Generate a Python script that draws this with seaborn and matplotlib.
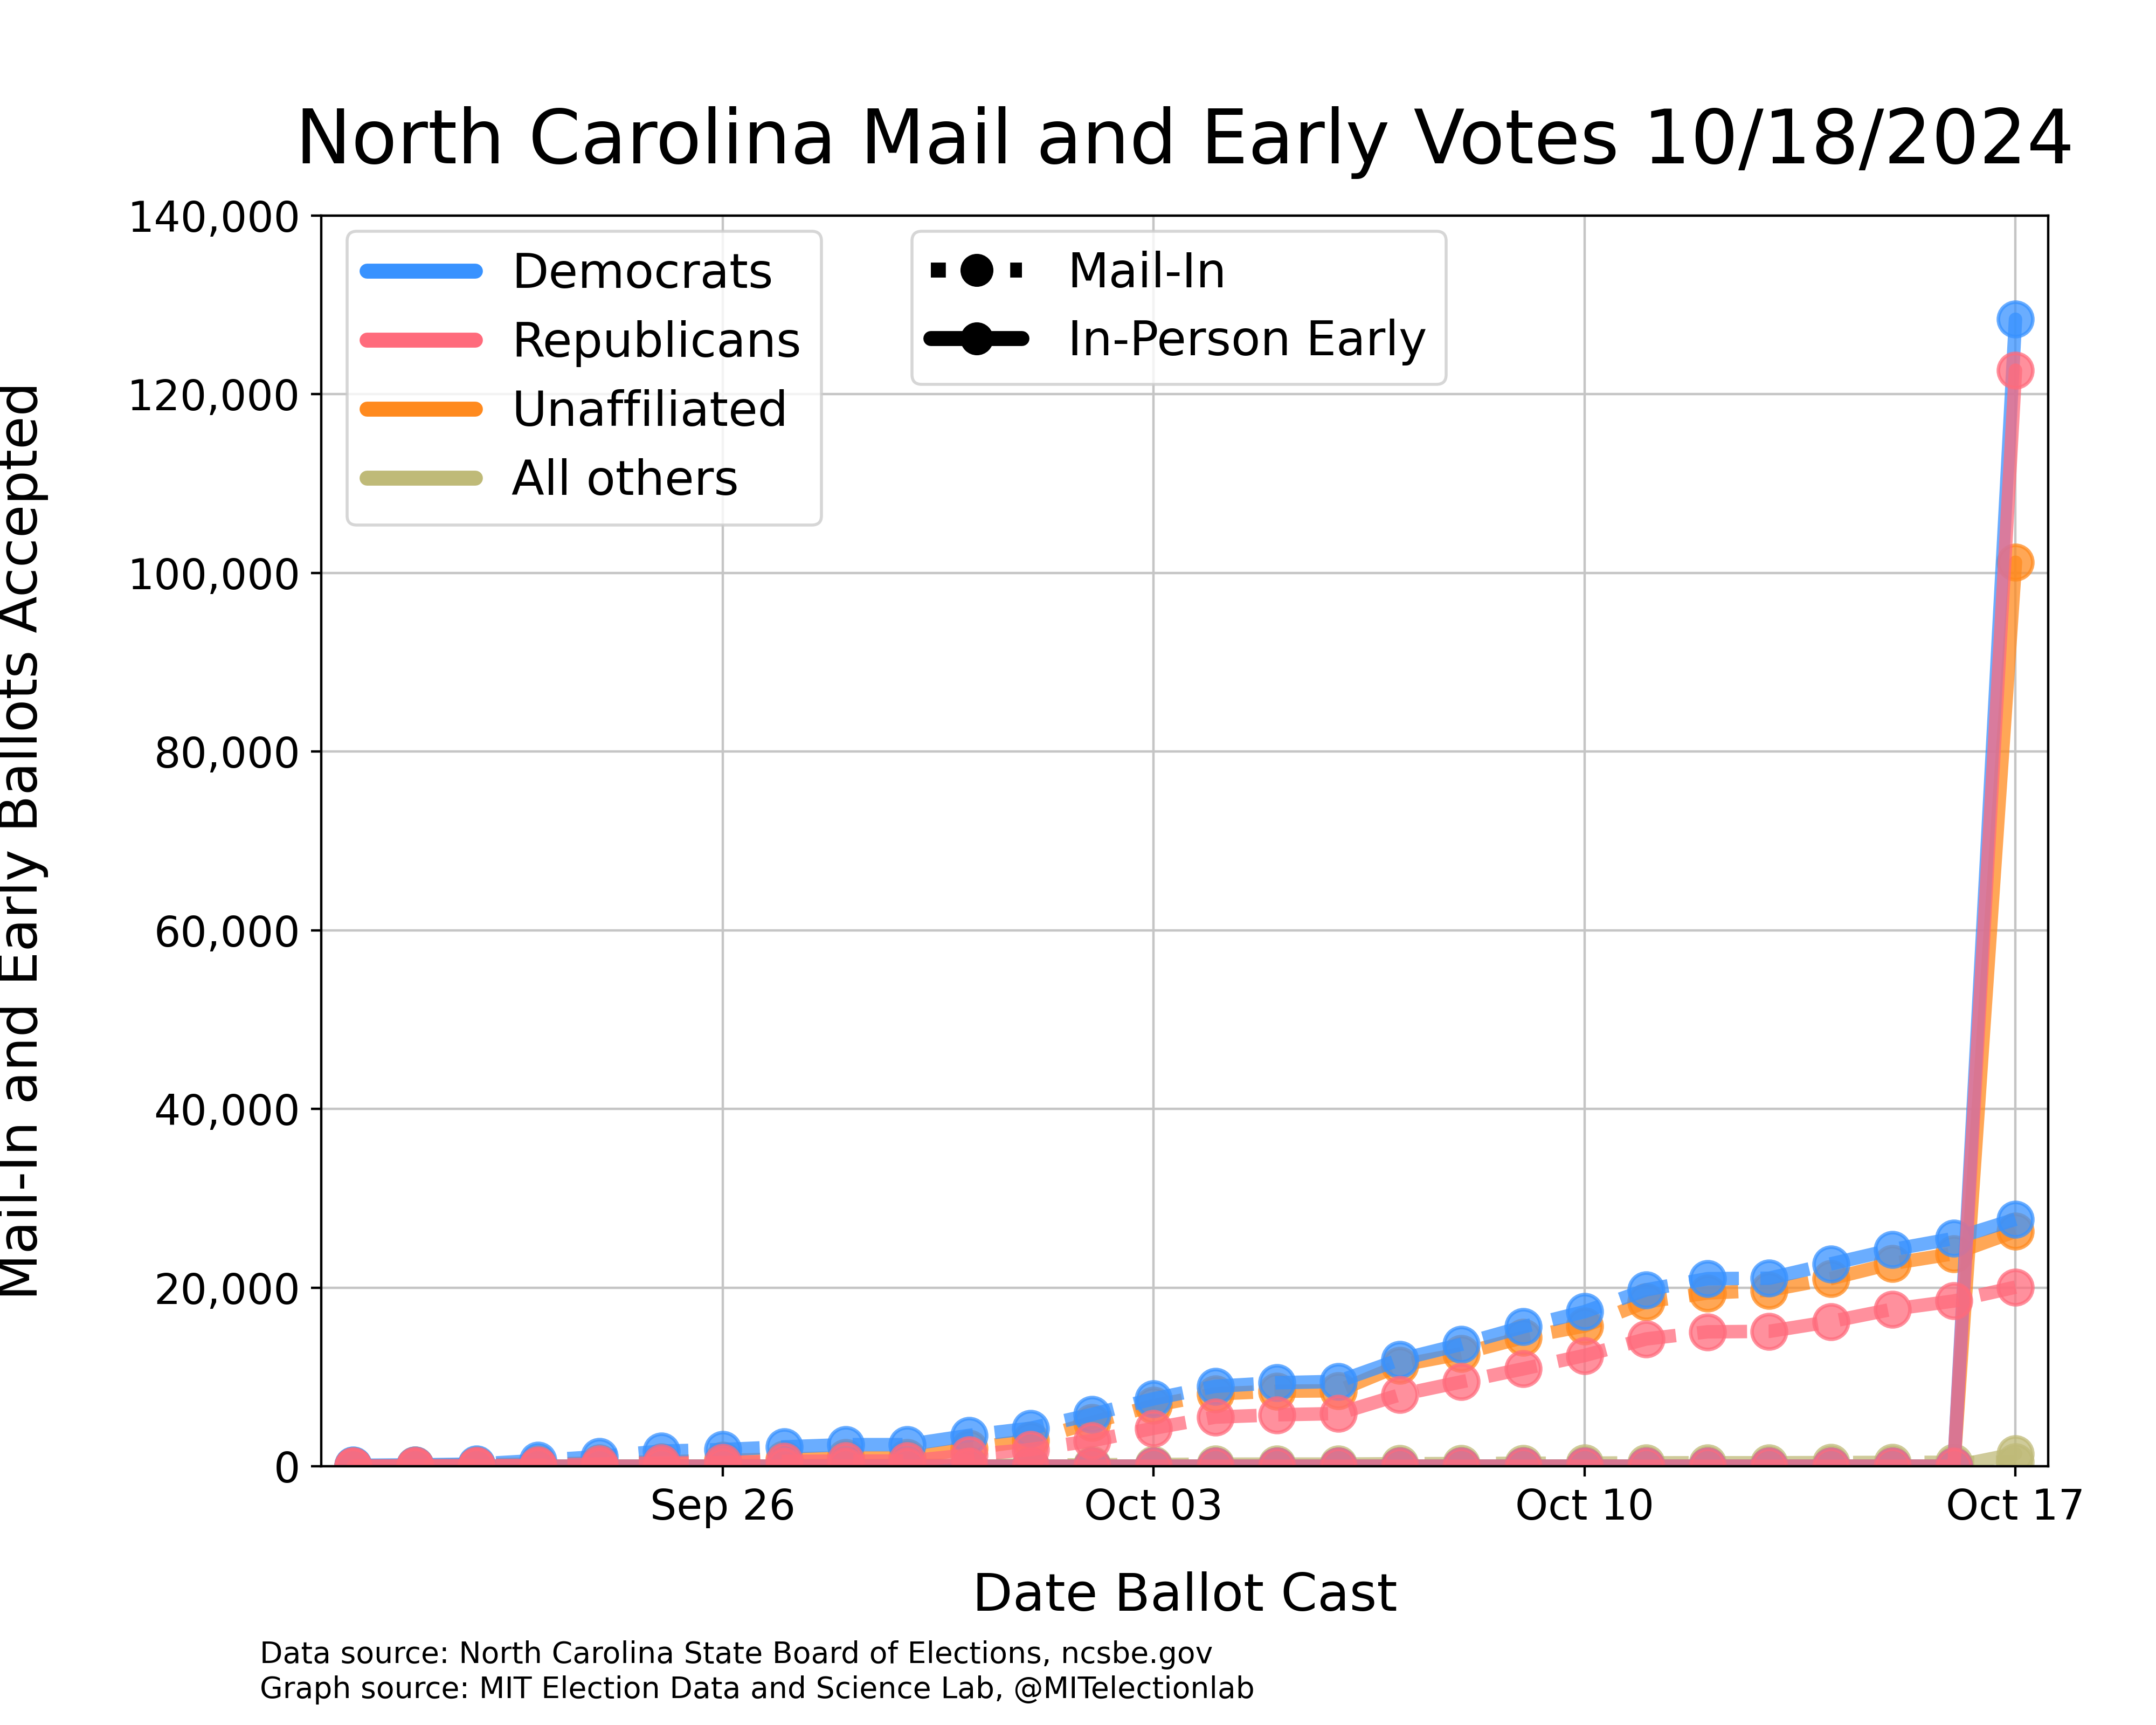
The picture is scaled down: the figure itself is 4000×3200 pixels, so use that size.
import seaborn as sns
import matplotlib.pyplot as plt
import matplotlib.ticker as mticker
import matplotlib.dates as mdates
from matplotlib.lines import Line2D
import pandas as pd

# ballots accepted per day of casting
dates = ["2024-09-20", "2024-09-21", "2024-09-22", "2024-09-23", "2024-09-24",
         "2024-09-25", "2024-09-26", "2024-09-27", "2024-09-28", "2024-09-29",
         "2024-09-30", "2024-10-01", "2024-10-02", "2024-10-03", "2024-10-04",
         "2024-10-05", "2024-10-06", "2024-10-07", "2024-10-08", "2024-10-09",
         "2024-10-10", "2024-10-11", "2024-10-12", "2024-10-13", "2024-10-14",
         "2024-10-15", "2024-10-16", "2024-10-17"]

dem_mail = [100, 150, 250, 650, 1080, 1690, 1870, 2170, 2420, 2420,
            3450, 4250, 5800, 7550, 8950, 9350, 9500, 11950, 13650, 15600,
            17300, 19750, 21000, 21050, 22650, 24250, 25500, 27650]
rep_mail = [0, 40, 60, 110, 240, 360, 420, 540, 580, 580,
            1270, 1870, 2860, 4250, 5500, 5760, 5900, 8000, 9450, 10900,
            12400, 14250, 15050, 15100, 16200, 17580, 18500, 20050]
unaff_mail = [50, 100, 150, 250, 350, 500, 650, 800, 950, 950,
              2000, 2900, 4900, 6800, 8100, 8400, 8450, 11300, 12600, 14400,
              15700, 18400, 19400, 19700, 21000, 22700, 23800, 26300]
other_mail = [0, 10, 20, 30, 40, 50, 60, 80, 90, 90,
              110, 130, 160, 200, 230, 240, 240, 280, 300, 330,
              350, 380, 390, 390, 410, 430, 440, 460]

dem_early = [0, 0, 0, 0, 0, 0, 0, 0, 0, 0, 0, 0, 0, 0,
             0, 0, 0, 0, 0, 0, 0, 0, 0, 0, 0, 0, 0, 128400]
rep_early = [0, 0, 0, 0, 0, 0, 0, 0, 0, 0, 0, 0, 0, 0,
             0, 0, 0, 0, 0, 0, 0, 0, 0, 0, 0, 0, 0, 122700]
unaff_early = [0, 0, 0, 0, 0, 0, 0, 0, 0, 0, 0, 0, 0, 0,
               0, 0, 0, 0, 0, 0, 0, 0, 0, 0, 0, 0, 0, 101200]
other_early = [0, 0, 0, 0, 0, 0, 0, 0, 0, 0, 0, 0, 0, 0,
               0, 0, 0, 0, 0, 0, 0, 0, 0, 0, 0, 0, 0, 1400]

parties = ["Democrats", "Republicans", "Unaffiliated", "All others"]
colors = {"Democrats": "#3892ff", "Republicans": "#ff6b7c",
          "Unaffiliated": "#ff8a1e", "All others": "#bfba78"}
tick_dates = ["2024-09-26", "2024-10-03", "2024-10-10", "2024-10-17"]

sns.set_style("ticks")
plt.rcParams["font.family"] = ["DejaVu Sans"]
plt.rcParams.update({"text.color": "black", "axes.labelcolor": "black",
                     "xtick.color": "black", "ytick.color": "black"})

x = pd.to_datetime(dates)
series = {
    "Democrats": (dem_mail, dem_early),
    "Republicans": (rep_mail, rep_early),
    "Unaffiliated": (unaff_mail, unaff_early),
    "All others": (other_mail, other_early),
}

fig, ax = plt.subplots(figsize=(10, 8), dpi=400)
fig.subplots_adjust(left=0.149, right=0.950, bottom=0.150, top=0.875)

# draw order: others, unaffiliated, democrats, republicans (red ends on top)
for party in ["All others", "Unaffiliated", "Democrats", "Republicans"]:
    mail, early = series[party]
    c = colors[party]
    for vals, ls in [(mail, "--"), (early, "-")]:
        sns.lineplot(x=x, y=vals, ax=ax, color=c, linestyle=ls, linewidth=4.5,
                     marker="o", markersize=11.5, markeredgecolor=c,
                     markeredgewidth=1.2, alpha=0.75, errorbar=None)

ax.set_ylim(0, 140000)
ax.yaxis.set_major_locator(mticker.MultipleLocator(20000))
ax.yaxis.set_major_formatter(mticker.StrMethodFormatter("{x:,.0f}"))
ax.set_xlim(pd.Timestamp("2024-09-19 11:30"), pd.Timestamp("2024-10-17 12:45"))
ax.set_xticks(pd.to_datetime(tick_dates))
ax.xaxis.set_major_formatter(mdates.DateFormatter("%b %d"))
ax.tick_params(labelsize=14, width=0.8, length=3.5, color="black",
               labelcolor="black")

ax.grid(True, color="#c5c5c5", linewidth=0.8)
ax.set_axisbelow(True)
for sp in ax.spines.values():
    sp.set_color("black")
    sp.set_linewidth(0.8)

ax.set_title("North Carolina Mail and Early Votes 10/18/2024", fontsize=25,
             pad=17.5, color="black")
ax.set_xlabel("Date Ballot Cast", fontsize=17.5)
ax.set_ylabel("Mail-In and Early Ballots Accepted", fontsize=18)
ax.xaxis.set_label_coords(0.5, -0.084)
ax.yaxis.set_label_coords(-0.158, 0.5)

party_handles = [Line2D([0], [0], color=colors[p], linewidth=5) for p in parties]
leg1 = ax.legend(party_handles, parties, loc="upper left",
                 bbox_to_anchor=(0.015, 0.9875), borderaxespad=0, fontsize=16,
                 handlelength=2.26, handletextpad=0.75, borderpad=0.42,
                 labelspacing=0.46, fancybox=True)
ax.add_artist(leg1)

method_handles = [
    Line2D([0], [0], color="black", linestyle=":", linewidth=5,
           marker="o", markersize=10),
    Line2D([0], [0], color="black", linestyle="-", linewidth=5,
           marker="o", markersize=10),
]
ax.legend(method_handles, ["Mail-In", "In-Person Early"], loc="upper left",
          bbox_to_anchor=(0.342, 0.9875), borderaxespad=0, fontsize=16,
          handlelength=1.9, handletextpad=0.95, borderpad=0.4,
          labelspacing=0.44, fancybox=True)

fig.text(0.1205, 0.036, "Data source: North Carolina State Board of Elections, ncsbe.gov",
         fontsize=9.95, va="baseline")
fig.text(0.1205, 0.0156, "Graph source: MIT Election Data and Science Lab, @MITelectionlab",
         fontsize=9.95, va="baseline")

fig.savefig("out.png", dpi=400)
